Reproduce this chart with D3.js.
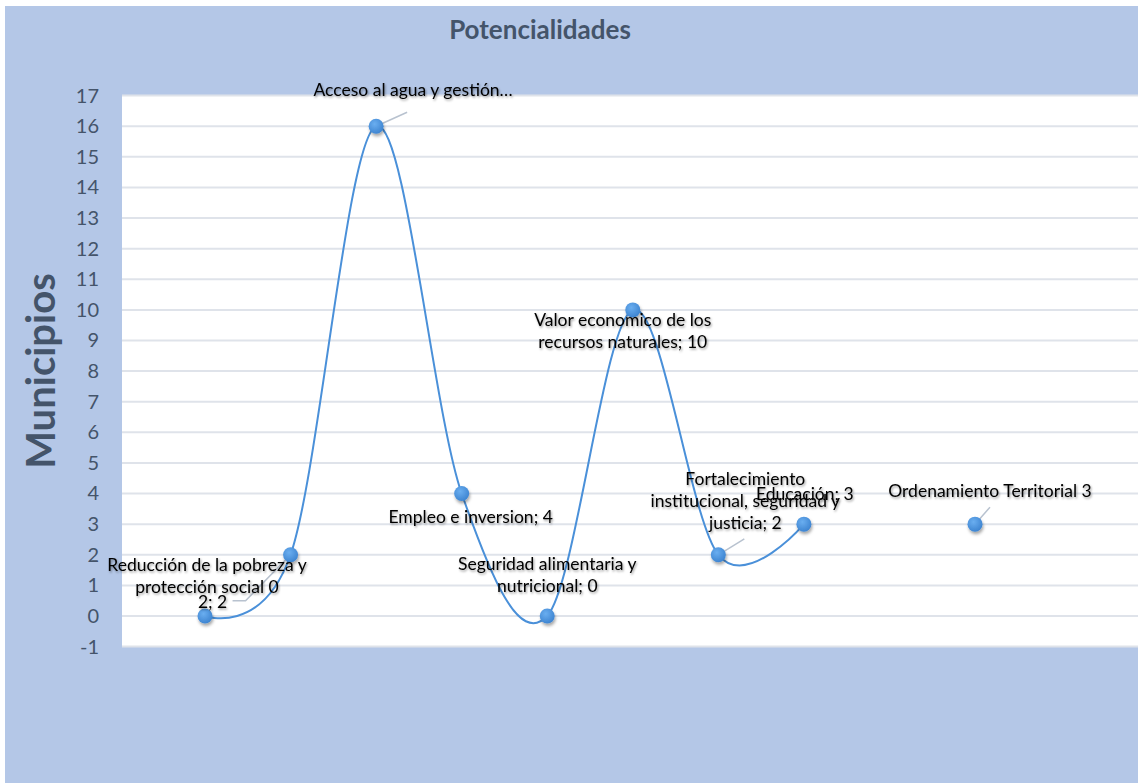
<!DOCTYPE html>
<html>
<head>
<meta charset="utf-8">
<script src="https://cdn.jsdelivr.net/npm/d3@7"></script>
<style>
  body { margin: 0; background: #fff; }
  text { font-family: Lato, "Open Sans", sans-serif; }
</style>
</head>
<body>
<div id="chart"></div>
<script>
// data
var xValues = [1, 2, 3, 4, 5, 6, 7, 8];
var yValues = [0, 2, 16, 4, 0, 10, 2, 3];
var labelLines = [
    ["Reducción de la pobreza y", "protección social 0"],
    ["2; 2"],
    ["Acceso al agua y gestión…"],
    ["Empleo e inversion; 4"],
    ["Seguridad alimentaria y", "nutricional; 0"],
    ["Valor economico de los", "recursos naturales; 10"],
    ["Fortalecimiento", "institucional, seguridad y", "justicia; 2"],
    ["Educación; 3"]
];
var loneX = [10];
var loneY = [3];
var loneLabel = [["Ordenamiento Territorial 3"]];
var yTicks = d3.range(-1, 18);

// label placement (pixels from the point: dx, dy of first baseline)
var labelOffsets = [
    [2, -45], [-78, 53], [37, -30], [9, 29], [0, -46], [-10, 16], [27, -70], [1, -24]
];
var leaders = [
    null, [[-45, 46], [-58, 46]], [[31, -14]], null, null, null, [[26, -16]], null
];
var loneOffsets = [[15, -27]];
var loneLeaders = [[[15, -17]]];

var W = 1138, H = 783;
var svg = d3.select("#chart").append("svg")
    .attr("width", W).attr("height", H);

var defs = svg.append("defs");
var sh = defs.append("filter").attr("id", "tshadow")
    .attr("x", "-10%").attr("y", "-30%").attr("width", "120%").attr("height", "160%");
sh.append("feDropShadow").attr("dx", 1).attr("dy", 1.5).attr("stdDeviation", 1.3)
    .attr("flood-color", "#000").attr("flood-opacity", 0.4);
var ms = defs.append("filter").attr("id", "mshadow")
    .attr("x", "-50%").attr("y", "-50%").attr("width", "200%").attr("height", "200%");
ms.append("feDropShadow").attr("dx", 1).attr("dy", 2.5).attr("stdDeviation", 1.5)
    .attr("flood-color", "#000").attr("flood-opacity", 0.35);
var grad = defs.append("radialGradient").attr("id", "mgrad")
    .attr("cx", "40%").attr("cy", "35%").attr("r", "70%");
grad.append("stop").attr("offset", "0%").attr("stop-color", "#6aaef0");
grad.append("stop").attr("offset", "100%").attr("stop-color", "#3b82cf");

// background
svg.append("rect").attr("x", 5).attr("y", 6).attr("width", W - 5).attr("height", H - 6)
    .attr("fill", "#b4c7e7");

var x = d3.scaleLinear().domain([1, 10]).range([205, 975]);
var y = d3.scaleLinear().domain([-1, 17]).range([646.6, 95.6]);

var plotLeft = 122, plotRight = W;
svg.append("rect")
    .attr("x", plotLeft).attr("y", y(17))
    .attr("width", plotRight - plotLeft).attr("height", y(-1) - y(17))
    .attr("fill", "#fff");

// gridlines
svg.append("g").selectAll("line").data(yTicks).enter().append("line")
    .attr("x1", plotLeft).attr("x2", plotRight)
    .attr("y1", function(d) { return y(d); })
    .attr("y2", function(d) { return y(d); })
    .attr("stroke", "#dfe3ea").attr("stroke-width", 2);

// y axis
var yAxis = d3.axisLeft(y).tickValues(yTicks).tickSize(0).tickPadding(0)
    .tickFormat(function(d) { return String(d); });
var ga = svg.append("g").attr("transform", "translate(99,0)").call(yAxis);
ga.select(".domain").remove();
ga.selectAll("text")
    .attr("font-size", 20).attr("fill", "#44546a")
    .style("font-family", "Lato, sans-serif");

// titles
svg.append("text").attr("x", 540).attr("y", 39)
    .attr("text-anchor", "middle").attr("font-size", 26).attr("font-weight", "bold")
    .attr("fill", "#44546a").text("Potencialidades");
svg.append("text")
    .attr("transform", "translate(55,371) rotate(-90)")
    .attr("text-anchor", "middle").attr("font-size", 40).attr("font-weight", "bold")
    .attr("fill", "#44546a").text("Municipios");

// smooth series line
var pts = xValues.map(function(d, i) { return [d, yValues[i]]; });
var line = d3.line()
    .x(function(d) { return x(d[0]); })
    .y(function(d) { return y(d[1]); })
    .curve(d3.curveCardinal.tension(0));
svg.append("path").datum(pts)
    .attr("d", line)
    .attr("fill", "none").attr("stroke", "#4a90d9").attr("stroke-width", 2);

// leader lines
function drawLeaders(px, py, segs) {
    if (!segs) return;
    var path = d3.path();
    path.moveTo(px, py);
    segs.forEach(function(s) { path.lineTo(px + s[0], py + s[1]); });
    svg.append("path").attr("d", path.toString())
        .attr("fill", "none").attr("stroke", "#b8c2cf").attr("stroke-width", 1.5);
}
pts.forEach(function(p, i) { drawLeaders(x(p[0]), y(p[1]), leaders[i]); });
loneX.forEach(function(d, i) { drawLeaders(x(d), y(loneY[i]), loneLeaders[i]); });

// markers
var allPts = pts.concat(loneX.map(function(d, i) { return [d, loneY[i]]; }));
svg.append("g").selectAll("circle").data(allPts).enter().append("circle")
    .attr("cx", function(d) { return x(d[0]); })
    .attr("cy", function(d) { return y(d[1]); })
    .attr("r", 7.5)
    .attr("fill", "url(#mgrad)")
    .attr("filter", "url(#mshadow)");

// data labels
function drawLabel(px, py, lines, off) {
    var t = svg.append("text")
        .attr("text-anchor", "middle").attr("font-size", 17.5).attr("fill", "#000")
        .attr("filter", "url(#tshadow)");
    lines.forEach(function(s, k) {
        t.append("tspan").attr("x", px + off[0]).attr("y", py + off[1] + k * 22).text(s);
    });
}
pts.forEach(function(p, i) { drawLabel(x(p[0]), y(p[1]), labelLines[i], labelOffsets[i]); });
loneX.forEach(function(d, i) { drawLabel(x(d), y(loneY[i]), loneLabel[i], loneOffsets[i]); });
</script>
</body>
</html>
